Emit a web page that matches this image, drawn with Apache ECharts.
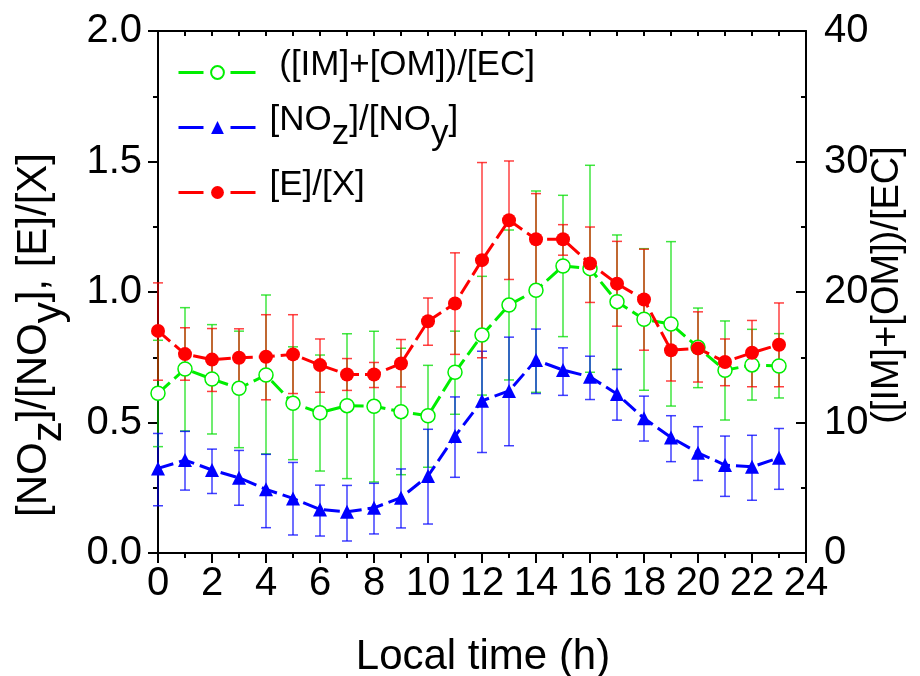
<!DOCTYPE html>
<html>
<head>
<meta charset="utf-8">
<script src="https://cdn.jsdelivr.net/npm/echarts@6/dist/echarts.min.js"></script>
<style>
html,body{margin:0;padding:0;background:#fff;}
#chart{width:920px;height:676px;}
</style>
</head>
<body>
<div id="chart"></div>
<script>
// ---- data ----
const hours = [0,1,2,3,4,5,6,7,8,9,10,11,12,13,14,15,16,17,18,19,20,21,22,23];

const exRatio    = [0.851,0.762,0.741,0.748,0.752,0.761,0.720,0.684,0.684,0.726,0.888,0.956,1.122,1.275,1.202,1.202,1.109,1.032,0.971,0.777,0.784,0.732,0.767,0.798];
const exLow      = [0.662,0.662,0.619,0.637,0.587,0.611,0.616,0.623,0.634,0.636,0.796,0.761,0.748,1.048,1.026,1.141,0.960,0.869,0.777,0.659,0.655,0.641,0.637,0.637];
const exHigh     = [1.035,0.863,0.860,0.859,0.913,0.913,0.820,0.745,0.730,0.818,0.977,1.150,1.496,1.502,1.377,1.258,1.249,1.194,1.164,0.870,0.924,0.820,0.891,0.958];

const imomEc     = [12.24,14.10,13.33,12.62,13.64,11.47,10.75,11.29,11.24,10.83,10.52,13.85,16.70,19.00,20.13,21.99,21.79,19.26,17.91,17.55,15.76,14.00,14.41,14.33];
const imomLow    = [8.15,9.35,9.12,8.07,7.59,7.15,6.28,5.70,5.44,6.00,6.57,10.63,12.10,13.26,12.31,16.58,13.85,14.08,12.47,11.26,12.67,10.19,11.72,11.88];
const imomHigh   = [16.30,18.80,17.50,17.00,19.77,15.80,15.17,16.80,16.99,15.69,14.38,17.00,21.20,24.75,27.74,27.41,29.71,24.37,23.32,23.86,18.77,17.78,17.14,16.81];

const nozNoy     = [0.324,0.356,0.318,0.288,0.244,0.209,0.167,0.158,0.173,0.212,0.295,0.448,0.583,0.621,0.739,0.701,0.675,0.609,0.516,0.443,0.384,0.337,0.330,0.365];
const nozLow     = [0.181,0.241,0.228,0.183,0.097,0.069,0.065,0.046,0.073,0.096,0.111,0.290,0.385,0.411,0.611,0.604,0.588,0.509,0.429,0.350,0.278,0.217,0.202,0.244];
const nozHigh    = [0.458,0.466,0.398,0.393,0.378,0.347,0.260,0.259,0.267,0.322,0.474,0.598,0.773,0.827,0.858,0.786,0.754,0.703,0.601,0.526,0.484,0.448,0.451,0.477];

const leftTicks = [0, 0.5, 1.0, 1.5, 2.0];
const rightTicks = [0, 10, 20, 30, 40];
const xTicks = [0,2,4,6,8,10,12,14,16,18,20,22,24];

const NAME_G = '([IM]+[OM])/[EC]';
const NAME_B = '[NOz]/[NOy]';
const NAME_R = '[E]/[X]';

// ---- helpers ----
const FONT = '"Liberation Sans", Arial, sans-serif';
function pts(vals){ return hours.map((h,i)=>[h, vals[i]]); }
function errs(lo, hi){ return hours.map((h,i)=>[h, lo[i], hi[i]]); }
function errRenderer(color){
  return function(params, api){
    const x = api.value(0);
    const p1 = api.coord([x, api.value(1)]);
    const p2 = api.coord([x, api.value(2)]);
    const w = 5;
    const st = {stroke: color, lineWidth: 1.5, opacity: 0.75};
    return {type:'group', children:[
      {type:'line', shape:{x1:p1[0], y1:p1[1], x2:p2[0], y2:p2[1]}, style:st},
      {type:'line', shape:{x1:p1[0]-w, y1:p1[1], x2:p1[0]+w, y2:p1[1]}, style:st},
      {type:'line', shape:{x1:p2[0]-w, y1:p2[1], x2:p2[0]+w, y2:p2[1]}, style:st}
    ]};
  };
}
const LFS = 35;
const rich = {
  n: {fontSize: LFS, fontFamily: FONT, color:'#000', padding:[0,0,14,0]},
  s: {fontSize: LFS, fontFamily: FONT, color:'#000', padding:[14,0,0,0]}
};
function legendFmt(name){
  if (name === NAME_B) return '{n|[NO}{s|z}{n|]/[NO}{s|y}{n|]}';
  if (name === NAME_G) return '{n| ([IM]+[OM])/[EC]}';
  return '{n|[E]/[X]}';
}
function mkLegend(name, top){
  return {
    data:[name], left:177, top: top, orient:'vertical', padding:0,
    itemWidth:78, itemHeight:16, selectedMode:false,
    formatter: legendFmt,
    lineStyle:{type:[25,27], width:3},
    textStyle:{fontSize:LFS, fontFamily:FONT, color:'#000', padding:[0,0,0,8], rich: rich}
  };
}
const dash = [16, 6];
const axisLineStyle = {color:'#000', width:2};
const TFS = 40;

const chart = echarts.init(document.getElementById('chart'), null, {renderer:'canvas'});
chart.setOption({
  animation:false,
  backgroundColor:'#fff',
  grid:{left:158, right:114, top:31, bottom:123, containLabel:false},
  legend:[ mkLegend(NAME_G, 48), mkLegend(NAME_B, 103), mkLegend(NAME_R, 168) ],
  xAxis:[
    {type:'value', position:'bottom', min:0, max:24, interval:2,
     axisLine:{show:true, lineStyle:axisLineStyle},
     axisTick:{show:true, inside:false, length:10, lineStyle:{color:'#000', width:2}},
     minorTick:{show:true, splitNumber:2, length:5, lineStyle:{color:'#000', width:2}},
     splitLine:{show:false},
     axisLabel:{fontSize:TFS, fontFamily:FONT, color:'#000', margin:11,
       formatter: v => xTicks.indexOf(v) >= 0 ? String(v) : ''}},
    {type:'value', position:'top', min:0, max:24, interval:1,
     axisLine:{show:true, onZero:false, lineStyle:axisLineStyle},
     axisTick:{show:true, inside:true, length:5, lineStyle:{color:'#000', width:2}},
     splitLine:{show:false}, axisLabel:{show:false}}
  ],
  yAxis:[
    {type:'value', position:'left', min:0, max:2, interval:0.5,
     axisLine:{show:true, onZero:false, lineStyle:axisLineStyle},
     axisTick:{show:true, inside:false, length:10, lineStyle:{color:'#000', width:2}},
     minorTick:{show:true, splitNumber:2, length:5, lineStyle:{color:'#000', width:2}},
     splitLine:{show:false},
     axisLabel:{fontSize:TFS, fontFamily:FONT, color:'#000', margin:16,
       formatter: v => leftTicks.indexOf(v) >= 0 ? v.toFixed(1) : ''}},
    {type:'value', position:'right', min:0, max:40, interval:10,
     axisLine:{show:true, onZero:false, lineStyle:axisLineStyle},
     axisTick:{show:true, inside:true, length:10, lineStyle:{color:'#000', width:2}},
     minorTick:{show:true, splitNumber:2, length:5, lineStyle:{color:'#000', width:2}},
     splitLine:{show:false},
     axisLabel:{fontSize:TFS, fontFamily:FONT, color:'#000', margin:18,
       formatter: v => rightTicks.indexOf(v) >= 0 ? String(v) : ''}}
  ],
  graphic:[
    {type:'text', x:483, y:657, style:{text:'Local time (h)', font:'42px '+FONT, fill:'#000', align:'center', verticalAlign:'middle'}},
    {type:'text', x:42, y:335, rotation:Math.PI/2,
     style:{text:'{n|[NO}{s|z}{n|]/[NO}{s|y}{n|], [E]/[X]}', rich:{
       n:{fontSize:42, fontFamily:FONT, fill:'#000', padding:[0,0,15,0]},
       s:{fontSize:42, fontFamily:FONT, fill:'#000', padding:[15,0,0,0]}},
       align:'center', verticalAlign:'middle'}},
    {type:'text', x:888, y:285, rotation:Math.PI/2,
     style:{text:'([IM]+[OM])/[EC]', font:'38px '+FONT, fill:'#000', align:'center', verticalAlign:'middle'}}
  ],
  series:[
    {name:'errG', type:'custom', xAxisIndex:0, yAxisIndex:1, z:1, silent:true,
     encode:{x:0, y:[1,2]}, data: errs(imomLow, imomHigh), renderItem: errRenderer('#00dd00')},
    {name:'errB', type:'custom', xAxisIndex:0, yAxisIndex:0, z:1, silent:true,
     encode:{x:0, y:[1,2]}, data: errs(nozLow, nozHigh), renderItem: errRenderer('#0000ff')},
    {name:'errR', type:'custom', xAxisIndex:0, yAxisIndex:0, z:1, silent:true,
     encode:{x:0, y:[1,2]}, data: errs(exLow, exHigh), renderItem: errRenderer('#ff0000')},
    {name:NAME_G, type:'line', xAxisIndex:0, yAxisIndex:1, z:3, data: pts(imomEc),
     symbol:'circle', symbolSize:14, showAllSymbol:true,
     lineStyle:{color:'#00ee00', width:3, type:dash},
     itemStyle:{color:'#ffffff', borderColor:'#00ee00', borderWidth:1.5}},
    {name:NAME_B, type:'line', xAxisIndex:0, yAxisIndex:0, z:3, data: pts(nozNoy),
     symbol:'triangle', symbolSize:14, showAllSymbol:true,
     lineStyle:{color:'#0000ff', width:3, type:dash},
     itemStyle:{color:'#0000ff', borderColor:'#0000ff', borderWidth:0}},
    {name:NAME_R, type:'line', xAxisIndex:0, yAxisIndex:0, z:3, data: pts(exRatio),
     symbol:'circle', symbolSize:14, showAllSymbol:true,
     lineStyle:{color:'#ff0000', width:3, type:dash},
     itemStyle:{color:'#ff0000', borderColor:'#ff0000', borderWidth:0}}
  ]
});
</script>
</body>
</html>
